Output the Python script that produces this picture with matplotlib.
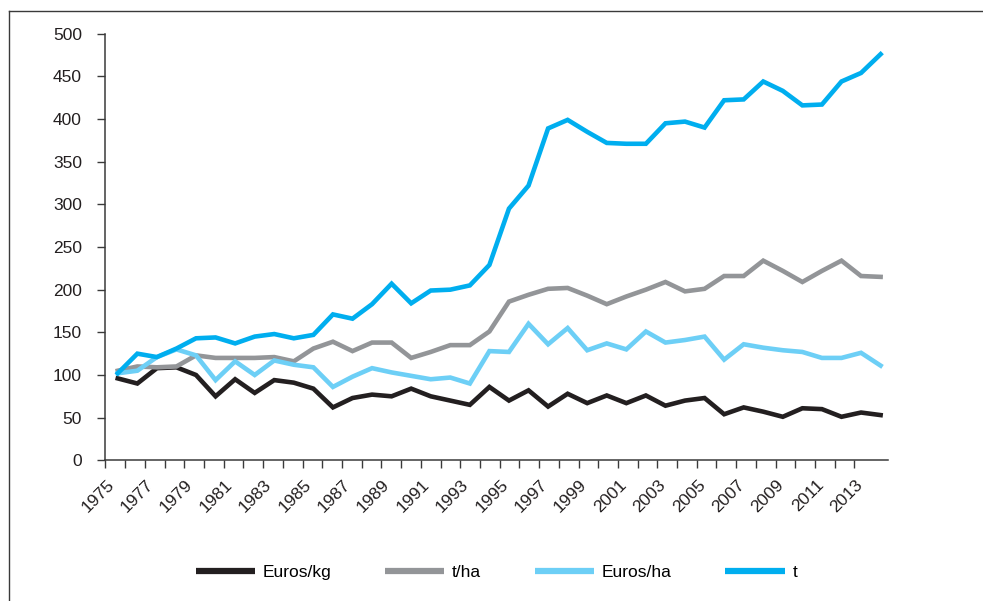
import matplotlib
matplotlib.use("Agg")
import matplotlib.pyplot as plt
import matplotlib.transforms as mtransforms
from matplotlib.lines import Line2D

plt.rcParams['font.family'] = ['Liberation Sans', 'DejaVu Sans']

years = list(range(1975, 2015))
tick_years = list(range(1975, 2014))

euros_kg = [96, 90, 108, 109, 100, 75, 95, 79, 94, 91, 84, 62, 73, 77, 75, 84, 75, 70, 65, 86,
            70, 82, 63, 78, 67, 76, 67, 76, 64, 70, 73, 54, 62, 57, 51, 61, 60, 51, 56, 53]
t_ha = [105, 110, 109, 110, 123, 120, 120, 120, 121, 116, 131, 139, 128, 138, 138, 120, 127, 135, 135, 151,
        186, 194, 201, 202, 193, 183, 192, 200, 209, 198, 201, 216, 216, 234, 222, 209, 222, 234, 216, 215]
euros_ha = [102, 105, 121, 130, 123, 94, 116, 100, 117, 112, 109, 86, 98, 108, 103, 99, 95, 97, 90, 128,
            127, 160, 136, 155, 129, 137, 130, 151, 138, 141, 145, 118, 136, 132, 129, 127, 120, 120, 126, 111]
t_vals = [102, 125, 121, 131, 143, 144, 137, 145, 148, 143, 147, 171, 166, 183, 207, 184, 199, 200, 205, 229,
          295, 322, 389, 399, 385, 372, 371, 371, 395, 397, 390, 422, 423, 444, 433, 416, 417, 444, 454, 476]

series = [
    ("Euros/kg", euros_kg, "#231F20"),
    ("t/ha", t_ha, "#939598"),
    ("Euros/ha", euros_ha, "#6DCFF6"),
    ("t", t_vals, "#00AEEF"),
]

fig = plt.figure(figsize=(9.83, 6.01), dpi=100)
ax = fig.add_axes([0.1073, 0.2341, 0.796, 0.7098])

xpos = [(y - 1975) * 0.9924 + 0.624 for y in years]
for name, vals, col in series:
    ax.plot(xpos, vals, color=col, lw=3.3, label=name, solid_joinstyle='miter')

ax.set_ylim(0, 500)
ax.set_xlim(0, 39.7)
ax.set_yticks(range(0, 501, 50))
tpos = [y - 1975 for y in tick_years]
ax.set_xticks(tpos)
ax.set_xticklabels([str(y) if (y - 1975) % 2 == 0 else "" for y in tick_years])

axis_col = "#3a3a3a"
for s in ["top", "right"]:
    ax.spines[s].set_visible(False)
for s in ["left", "bottom"]:
    ax.spines[s].set_color(axis_col)
    ax.spines[s].set_linewidth(1.1)

ax.tick_params(axis='y', direction='out', length=5.5, width=1.0, color=axis_col,
               labelsize=12.5, pad=11.5, labelcolor="#231F20")
ax.tick_params(axis='x', direction='out', length=5.5, width=1.0, color=axis_col,
               labelsize=12.5, pad=10.5, labelcolor="#231F20")

offset = mtransforms.ScaledTranslation(6 / 100, 0, fig.dpi_scale_trans)
for lab in ax.get_xticklabels():
    lab.set_rotation(45)
    lab.set_ha('right')
    lab.set_va('center')
    lab.set_rotation_mode('anchor')
    lab.set_transform(lab.get_transform() + offset)

handles, labels = ax.get_legend_handles_labels()
leg = fig.legend(handles, labels, loc='center', bbox_to_anchor=(0.505, 0.048), ncol=4,
                 frameon=False, fontsize=12.5, handlelength=3.4, handletextpad=0.45,
                 columnspacing=3.1)
for h in leg.legend_handles:
    h.set_linewidth(4.5)
    h.set_solid_capstyle('butt')

# outer frame lines (top and left)
fig.add_artist(Line2D([9 / 983, 1.0], [1 - 10.5 / 601, 1 - 10.5 / 601], transform=fig.transFigure,
                      color=axis_col, lw=1.0))
fig.add_artist(Line2D([9 / 983, 9 / 983], [0, 1 - 10.5 / 601], transform=fig.transFigure,
                      color=axis_col, lw=1.0))

fig.savefig("out.png", dpi=100)
